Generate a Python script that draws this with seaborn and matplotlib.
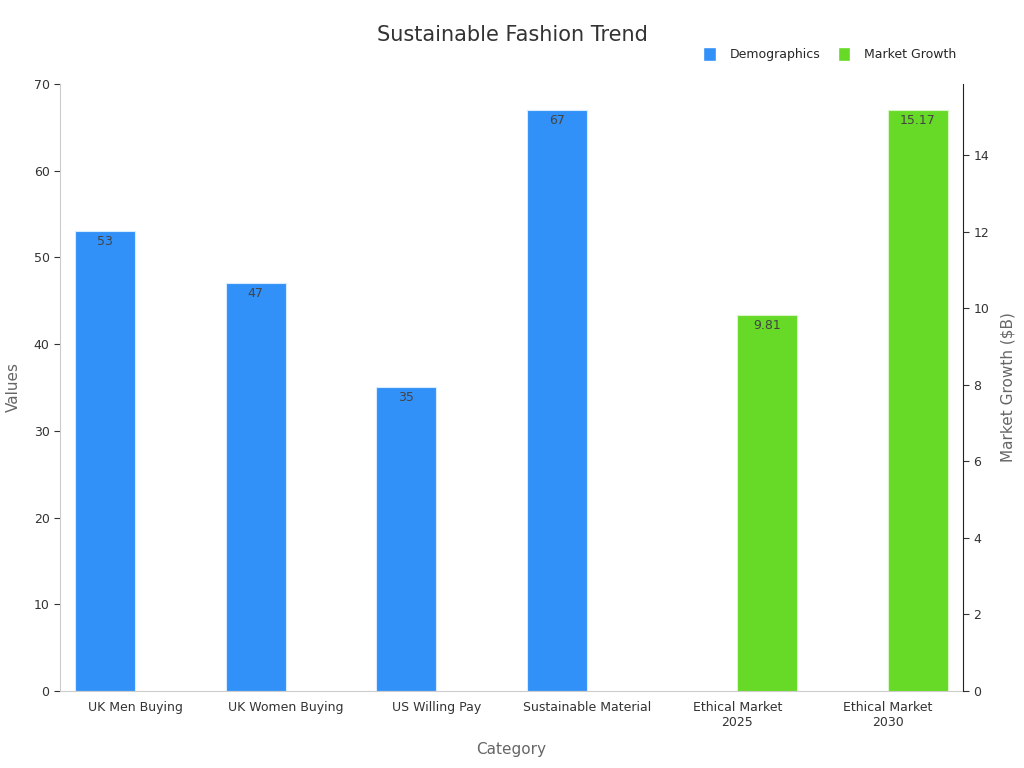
import matplotlib
matplotlib.use("Agg")
import matplotlib.pyplot as plt
import seaborn as sns
import pandas as pd
from matplotlib.patches import Patch

categories = ["UK Men Buying", "UK Women Buying", "US Willing Pay",
              "Sustainable Material", "Ethical Market\n2025", "Ethical Market\n2030"]
demo_values = [53, 47, 35, 67, None, None]
market_values = [None, None, None, None, 9.81, 15.17]
series = ["Demographics", "Market Growth"]
colors = {"Demographics": "#3191f8", "Market Growth": "#66da26"}

demo = pd.DataFrame({"Category": categories, "Value": demo_values, "Series": "Demographics"}).dropna()
market = pd.DataFrame({"Category": categories, "Value": market_values, "Series": "Market Growth"}).dropna()

sns.set_style("white")
plt.rcParams['font.family'] = ['DejaVu Sans']

fig = plt.figure(figsize=(10.24, 7.68), dpi=100)
ax = fig.add_axes([0.0586, 0.1003, 0.8818, 0.7903])
ax2 = ax.twinx()

sns.barplot(data=demo, x="Category", y="Value", hue="Series", order=categories,
            hue_order=series, palette=colors, dodge=True, width=0.8, saturation=1,
            edgecolor="#d8ecff", linewidth=0.8, legend=False, ax=ax)
sns.barplot(data=market, x="Category", y="Value", hue="Series", order=categories,
            hue_order=series, palette=colors, dodge=True, width=0.8, saturation=1,
            edgecolor="#d8f5c8", linewidth=0.8, legend=False, ax=ax2)

for c in ax.containers:
    ax.bar_label(c, labels=[f"{v:g}" for v in c.datavalues], padding=-12,
                 fontsize=9, color="#444444")
for c in ax2.containers:
    ax2.bar_label(c, labels=[f"{v:.2f}" for v in c.datavalues], padding=-12,
                  fontsize=9, color="#444444")

ax.set_xlim(-0.5, 5.5)
ax.set_ylim(0, 70)
ax2.set_ylim(0, max(market["Value"]) * 1.045)
ax2.set_yticks(range(0, 16, 2))

ax.set_xlabel("Category", fontsize=11, color="#666666", labelpad=9)
ax.set_ylabel("Values", fontsize=11, color="#666666", labelpad=9)
ax2.set_ylabel("Market Growth ($B)", fontsize=11, color="#666666", labelpad=8)

for a in (ax, ax2):
    a.spines["top"].set_visible(False)
    a.tick_params(axis="both", labelsize=9, colors="#333333", length=4, width=0.8)
ax.tick_params(axis="x", color="#999999")
ax.spines["left"].set_color("#cccccc")
ax.spines["bottom"].set_color("#cccccc")
ax.spines["right"].set_visible(False)
ax2.spines["left"].set_visible(False)
ax2.spines["bottom"].set_visible(False)
ax2.spines["right"].set_color("#222222")
ax2.spines["right"].set_linewidth(0.8)

fig.suptitle("Sustainable Fashion Trend", fontsize=15, color="#333333", y=0.968)
handles = [Patch(facecolor=colors[s], label=s) for s in series]
fig.legend(handles=handles, loc="center right", bbox_to_anchor=(0.945, 0.93), ncol=2,
           frameon=False, fontsize=9, handlelength=1.0, handleheight=1.4,
           columnspacing=1.4, handletextpad=1.1)

fig.savefig("out.png", dpi=100)
